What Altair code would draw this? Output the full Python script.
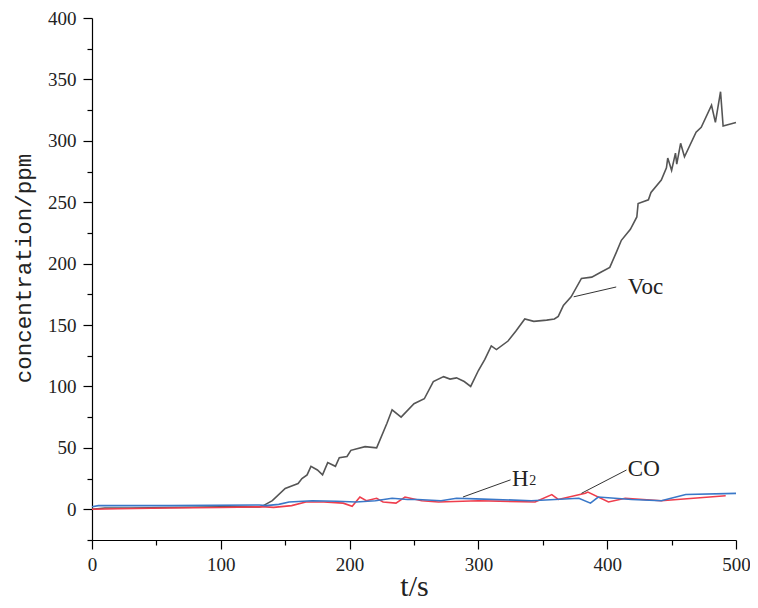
import altair as alt
import pandas as pd

# ---- data ----
t_voc = [0, 10, 30, 60, 100, 130, 132, 140, 150, 155, 160, 163, 167, 170, 175, 179, 183, 189, 192, 198,
         201, 212, 221, 229, 233, 240, 250, 258, 265, 273, 278, 283, 289, 294, 300, 305, 310, 314, 323, 329,
         336, 343, 353, 359, 362, 366, 372, 380, 388, 395, 402, 407, 411, 418, 423, 424, 432, 434, 442, 446,
         447, 450, 453, 454, 457, 460, 469, 473, 481, 484, 488, 490, 500]
v_voc = [0, 1, 1, 1.5, 2, 2, 2.4, 7, 17, 19, 21, 25, 28, 35, 32, 28, 38, 35, 42, 43,
         48, 51, 50, 70, 81, 75, 86, 90, 104, 108, 106, 107, 104, 100, 113, 122, 133, 130, 137, 145,
         155, 153, 154, 155, 157, 166, 173, 188, 189, 193, 197, 209, 219, 228, 238, 249, 252, 258, 268, 278,
         286, 276, 290, 281, 298, 287, 307, 311, 329, 315, 340, 312, 315]

t_h2 = [0, 5, 60, 130, 135, 145, 153, 171, 190, 205, 220, 233, 245, 253, 271, 283, 298, 341, 378, 387,
        393, 419, 442, 461, 500]
v_h2 = [2, 3, 3, 3.5, 3, 4, 6, 7, 6.5, 6, 7, 9, 8, 8, 7, 9, 8.5, 7, 9, 5,
        10, 8, 7, 12, 13]

t_co = [0, 20, 60, 100, 130, 135, 141, 155, 166, 180, 195, 202, 208, 213, 221, 226, 236, 243, 256, 269,
        300, 344, 357, 362, 383, 385, 401, 414, 442, 492]
v_co = [0, 0.5, 1, 1.5, 2, 2, 1.6, 3, 6, 6, 5, 2.5, 10, 7, 9, 6, 5, 10, 7, 6,
        7, 6, 12, 8, 13, 14, 6, 9, 7, 11]

series_names = ["Voc", "CO", "H2"]
series_colors = ["#555555", "#ef3e4d", "#3a78c8"]

# annotation labels and leader lines (data coordinates)
label_text = ["Voc", "CO", "H"]
label_t = [416, 416, 326]
label_v = [181, 33, 25]
sub_text = ["2"]
sub_t = [339.5]
sub_v = [23]
leader_t1 = [374, 380, 288]
leader_v1 = [173, 13, 10]
leader_t2 = [407, 415, 325]
leader_v2 = [181, 32, 24]

x_major = [0, 100, 200, 300, 400, 500]
x_minor = [50, 150, 250, 350, 450]
y_major = [0, 50, 100, 150, 200, 250, 300, 350, 400]
y_minor = [-25, 25, 75, 125, 175, 225, 275, 325, 375]

# ---- tables ----
rows = []
for name, ts, vs in [("Voc", t_voc, v_voc), ("CO", t_co, v_co), ("H2", t_h2, v_h2)]:
    for i, (t, v) in enumerate(zip(ts, vs)):
        rows.append({"series": name, "t": t, "v": v, "order": i})
df = pd.DataFrame(rows)
df_labels = pd.DataFrame({"text": label_text, "t": label_t, "v": label_v})
df_sub = pd.DataFrame({"text": sub_text, "t": sub_t, "v": sub_v})
df_leader = pd.DataFrame({"t": leader_t1, "v": leader_v1, "t2": leader_t2, "v2": leader_v2})

xscale = alt.Scale(domain=[0, 500], nice=False, zero=False)
yscale = alt.Scale(domain=[-25, 400], nice=False, zero=False)

serif = "Liberation Serif"

x_axis = alt.Axis(orient="bottom", values=x_major, tickSize=9, labelPadding=6, labelFont=serif,
                  labelFontSize=19, labelColor="#222", domainColor="black", tickColor="black",
                  title="t/s", titleFont=serif, titleFontSize=30, titleFontWeight="normal",
                  titleColor="#222", titlePadding=-3, grid=False, labelFlush=False)
y_axis = alt.Axis(orient="left", values=y_major, tickSize=9, labelPadding=7, labelFont=serif,
                  labelFontSize=19, labelColor="#222", domainColor="black", tickColor="black",
                  title="concentration/ppm", titleFont="Liberation Mono", titleFontSize=22.5,
                  titleFontWeight="normal", titleColor="#222", titlePadding=12, grid=False,
                  titleY=250)

lines = alt.Chart(df).mark_line(strokeWidth=1.6).encode(
    x=alt.X("t:Q", scale=xscale, axis=x_axis),
    y=alt.Y("v:Q", scale=yscale, axis=y_axis),
    color=alt.Color("series:N", scale=alt.Scale(domain=series_names, range=series_colors), legend=None),
    order="order:Q",
    detail="series:N",
)

x_minor_axis = alt.Axis(orient="bottom", values=x_minor, tickSize=5, labels=False, domain=False,
                        tickColor="black", title=None, grid=False)
y_minor_axis = alt.Axis(orient="left", values=y_minor, tickSize=5, labels=False, domain=False,
                        tickColor="black", title=None, grid=False)

leaders = alt.Chart(df_leader).mark_rule(color="#333", strokeWidth=1).encode(
    x=alt.X("t:Q", scale=xscale, axis=x_minor_axis),
    y=alt.Y("v:Q", scale=yscale, axis=y_minor_axis),
    x2="t2:Q",
    y2="v2:Q",
)

labels = alt.Chart(df_labels).mark_text(align="left", baseline="middle", font=serif, fontSize=23,
                                         color="#222").encode(
    x=alt.X("t:Q", scale=xscale, axis=None),
    y=alt.Y("v:Q", scale=yscale, axis=None),
    text="text:N",
)
subs = alt.Chart(df_sub).mark_text(align="left", baseline="middle", font=serif, fontSize=14,
                                    color="#222").encode(
    x=alt.X("t:Q", scale=xscale, axis=None),
    y=alt.Y("v:Q", scale=yscale, axis=None),
    text="text:N",
)

chart = alt.layer(lines, leaders, labels, subs).resolve_axis(x="independent", y="independent").properties(
    width=644, height=522,
    autosize=alt.AutoSizeParams(type="none"),
    padding={"left": 84, "top": 10, "right": 14, "bottom": 60},
).configure_view(stroke=None).configure_axis(domainWidth=1.2, tickWidth=1.2)

chart.save("out.html", embed_options={"renderer": "svg", "actions": False})
